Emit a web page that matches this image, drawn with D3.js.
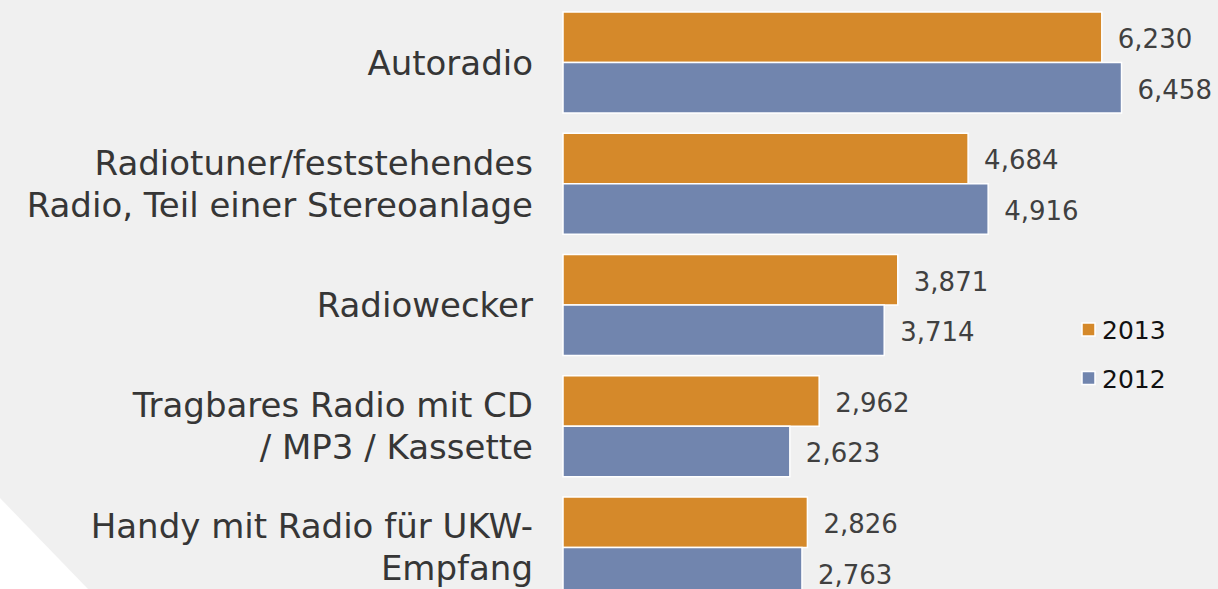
<!DOCTYPE html>
<html>
<head>
<meta charset="utf-8">
<script src="https://cdn.jsdelivr.net/npm/d3@7"></script>
<style>
  body { margin: 0; background: #f0f0f0; }
  svg { display: block; }
</style>
</head>
<body>
<svg id="chart"></svg>
<script>
// chart data
const categories = [
  "Autoradio",
  "Radiotuner/feststehendes\nRadio, Teil einer Stereoanlage",
  "Radiowecker",
  "Tragbares Radio mit CD\n/ MP3 / Kassette",
  "Handy mit Radio für UKW-\nEmpfang"
];
const years = ["2013", "2012"];
const values2013 = [6230, 4684, 3871, 2962, 2826];
const values2012 = [6458, 4916, 3714, 2623, 2763];
const colors = ["#d5892a", "#7185ae"];

const width = 1218;
const height = 589;

const rows = categories.map((c, i) => ({
  cat: c,
  vals: [
    { year: "2013", value: values2013[i] },
    { year: "2012", value: values2012[i] }
  ]
}));

const svg = d3.select("#chart")
  .attr("width", width)
  .attr("height", height);

// background + white corner
svg.append("rect")
  .attr("width", width)
  .attr("height", height)
  .attr("fill", "#f0f0f0");

svg.append("polygon")
  .attr("points", "0,498 0,589 88,589")
  .attr("fill", "#ffffff");

// scales
const x = d3.scaleLinear().domain([0, 7000]).range([563, 1168.4]);
const y = d3.scaleBand()
  .domain(categories)
  .range([12, 598])
  .paddingInner(0.167)
  .paddingOuter(0);
const y1 = d3.scaleBand().domain(years).range([0, y.bandwidth()]);
const color = d3.scaleOrdinal().domain(years).range(colors);
const fmt = d3.format(",");

const groups = svg.selectAll(".group")
  .data(rows)
  .enter()
  .append("g")
  .attr("class", "group")
  .attr("transform", d => `translate(0,${y(d.cat)})`);

// bars
groups.selectAll("rect")
  .data(d => d.vals)
  .enter()
  .append("rect")
  .attr("x", x(0))
  .attr("y", d => y1(d.year))
  .attr("width", d => x(d.value) - x(0))
  .attr("height", y1.bandwidth())
  .attr("fill", d => color(d.year))
  .attr("stroke", "#ffffff")
  .attr("stroke-width", 1.5);

// value labels
groups.selectAll(".val")
  .data(d => d.vals)
  .enter()
  .append("text")
  .attr("class", "val")
  .attr("x", d => x(d.value) + 16)
  .attr("y", d => y1(d.year) + y1.bandwidth() / 2 + 11)
  .style("font-family", "DejaVu Sans, sans-serif")
  .style("font-size", "26px")
  .style("fill", "#404040")
  .text(d => fmt(d.value));

// category labels
const lineH = 42;
groups.append("text")
  .attr("class", "cat")
  .attr("text-anchor", "end")
  .style("font-family", "DejaVu Sans, sans-serif")
  .style("font-size", "34px")
  .style("fill", "#363636")
  .each(function(d) {
    const lines = d.cat.split("\n");
    const mid = y.bandwidth() / 2;
    const first = mid - (lines.length - 1) * lineH / 2 + 12;
    d3.select(this).selectAll("tspan")
      .data(lines)
      .enter()
      .append("tspan")
      .attr("x", 533)
      .attr("y", (l, i) => first + i * lineH)
      .text(l => l);
  });

// legend
const legend = svg.append("g")
  .attr("transform", "translate(1082,323)");

const items = legend.selectAll("g")
  .data(years)
  .enter()
  .append("g")
  .attr("transform", (d, i) => `translate(0,${i * 48.5})`);

items.append("rect")
  .attr("width", 13)
  .attr("height", 13)
  .attr("fill", d => color(d))
  .attr("stroke", "#ffffff")
  .attr("stroke-width", 1.5);

items.append("text")
  .attr("x", 20)
  .attr("y", 16)
  .style("font-family", "DejaVu Sans, sans-serif")
  .style("font-size", "25px")
  .style("fill", "#111")
  .text(d => d);
</script>
</body>
</html>
